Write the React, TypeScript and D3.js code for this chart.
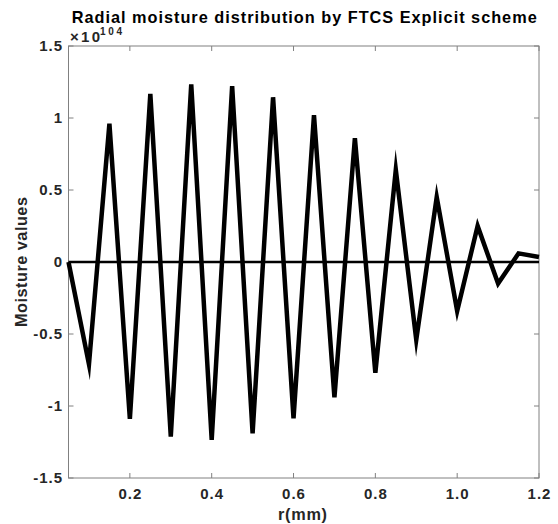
import React from "react";
import * as d3 from "d3";

// Radial positions (mm) and moisture values (in units of 10^104)
const radius = [
  0.05, 0.1, 0.15, 0.2, 0.25, 0.3, 0.35, 0.4, 0.45, 0.5, 0.55, 0.6,
  0.65, 0.7, 0.75, 0.8, 0.85, 0.9, 0.95, 1.0, 1.05, 1.1, 1.15, 1.2,
];
const moisture = [
  0, -0.71, 0.96, -1.09, 1.167, -1.213, 1.234, -1.236, 1.222, -1.19, 1.144, -1.085,
  1.02, -0.94, 0.86, -0.77, 0.64, -0.54, 0.45, -0.34, 0.25, -0.15, 0.06, 0.035,
];
// Initial profile (flat at zero)
const initialMoisture = [
  0, 0, 0, 0, 0, 0, 0, 0, 0, 0, 0, 0,
  0, 0, 0, 0, 0, 0, 0, 0, 0, 0, 0, 0,
];
const exponent = "104";

const xTicks = [0.2, 0.4, 0.6, 0.8, 1.0, 1.2];
const xTickLabels = ["0.2", "0.4", "0.6", "0.8", "1.0", "1.2"];
const yTicks = [-1.5, -1, -0.5, 0, 0.5, 1, 1.5];
const yTickLabels = ["-1.5", "-1", "-0.5", "0", "0.5", "1", "1.5"];

const W = 558;
const H = 524;
const left = 68.5;
const right = 539;
const top = 46;
const bottom = 478;

const FONT = "'Liberation Sans', Arial, Helvetica, sans-serif";
const TEXT = "#262626";
const AXIS = "#808080";

export default function App() {
  const x = d3.scaleLinear().domain([0.05, 1.2]).range([left, right]);
  const y = d3.scaleLinear().domain([-1.5, 1.5]).range([bottom, top]);

  const line = d3
    .line<number>()
    .x((_, i) => x(radius[i]))
    .y((d) => y(d));

  const tickLen = 5;

  return (
    <svg
      width={W}
      height={H}
      viewBox={`0 0 ${W} ${H}`}
      style={{ position: "absolute", left: 0, top: 0, background: "#fff" }}
      fontFamily={FONT}
    >
      <rect x={0} y={0} width={W} height={H} fill="#fff" />

      {/* axes box */}
      <rect
        x={left}
        y={top}
        width={right - left}
        height={bottom - top}
        fill="none"
        stroke={AXIS}
        strokeWidth={1}
      />

      {/* x ticks (bottom and top, pointing inward) */}
      {xTicks.map((t, i) => (
        <g key={"xt" + i}>
          <line x1={x(t)} x2={x(t)} y1={bottom} y2={bottom - tickLen} stroke={AXIS} />
          <line x1={x(t)} x2={x(t)} y1={top} y2={top + tickLen} stroke={AXIS} />
          <text
            x={x(t) + 0.5}
            y={499}
            textAnchor="middle"
            fontSize={15}
            fontWeight="bold"
            letterSpacing={1}
            fill={TEXT}
          >
            {xTickLabels[i]}
          </text>
        </g>
      ))}

      {/* y ticks (left and right, pointing inward) */}
      {yTicks.map((t, i) => (
        <g key={"yt" + i}>
          <line x1={left} x2={left + tickLen} y1={y(t)} y2={y(t)} stroke={AXIS} />
          <line x1={right} x2={right - tickLen} y1={y(t)} y2={y(t)} stroke={AXIS} />
          <text
            x={63}
            y={y(t)}
            dy="0.36em"
            textAnchor="end"
            fontSize={15}
            fontWeight="bold"
            letterSpacing={1}
            fill={TEXT}
          >
            {yTickLabels[i]}
          </text>
        </g>
      ))}

      {/* exponent multiplier */}
      <text x={70} y={42} fontSize={15} fontWeight="bold" fill={TEXT} textLength={30}>
        ×10
      </text>
      <text x={100} y={35.2} fontSize={10} fontWeight="bold" fill={TEXT} textLength={22}>
        {exponent}
      </text>

      {/* series */}
      <path
        d={line(initialMoisture) ?? ""}
        fill="none"
        stroke="#000"
        strokeWidth={2.7}
      />
      <path
        d={line(moisture) ?? ""}
        fill="none"
        stroke="#000"
        strokeWidth={4.5}
        strokeLinejoin="miter"
        strokeMiterlimit={10}
      />

      {/* title and labels */}
      <text
        x={304.2}
        y={22.5}
        textAnchor="middle"
        fontSize={16.3}
        fontWeight="bold"
        textLength={465}
        fill="#000"
      >
        Radial moisture distribution by FTCS Explicit scheme
      </text>
      <text
        x={302.5}
        y={519.5}
        textAnchor="middle"
        fontSize={16.3}
        fontWeight="bold"
        textLength={49}
        fill={TEXT}
      >
        r(mm)
      </text>
      <text
        transform={`translate(26.7, ${(top + bottom) / 2}) rotate(-90)`}
        textAnchor="middle"
        fontSize={16.3}
        fontWeight="bold"
        textLength={130}
        fill={TEXT}
      >
        Moisture values
      </text>
    </svg>
  );
}
